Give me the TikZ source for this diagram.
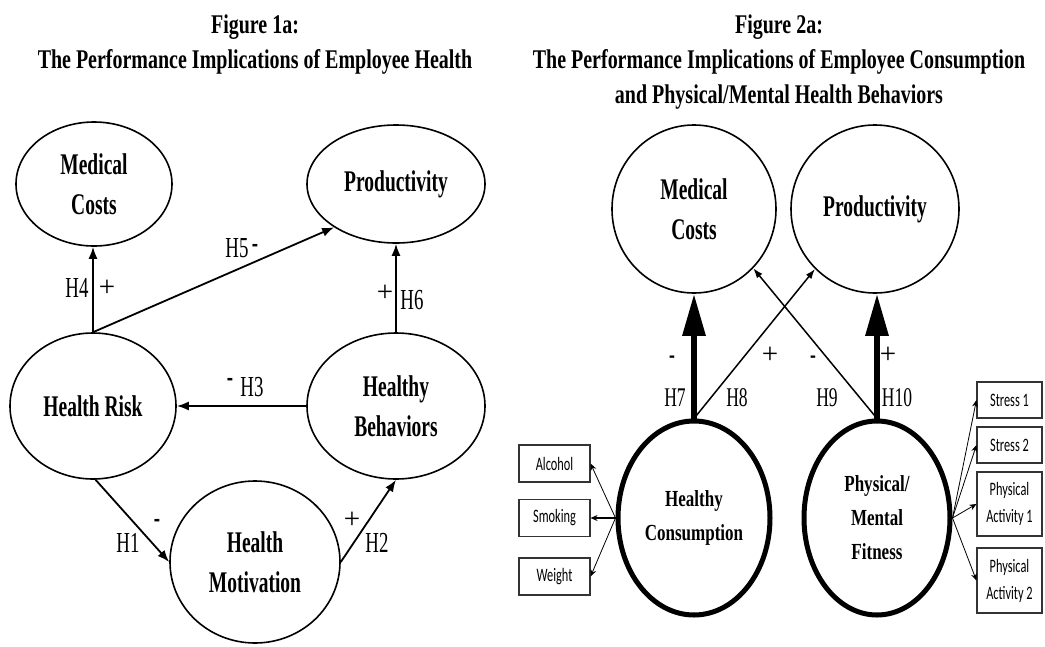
\documentclass[tikz,border=0pt]{standalone}
\usepackage{fontspec}
\setmainfont[FakeStretch=0.65]{Liberation Serif}
\newfontfamily\widef[FakeStretch=0.74]{Liberation Serif}
\newfontfamily\plainf{Liberation Serif}
\newfontfamily\carl[FakeStretch=0.65]{Carlito}
\usetikzlibrary{shapes.geometric,arrows.meta}
\begin{document}
\begin{tikzpicture}[x=1pt,y=-1pt,
  lat/.style={ellipse, draw, line width=1.6pt, inner sep=0pt, align=center, font=\bfseries\fontsize{30}{40}\selectfont},
  hcirc/.style={ellipse, draw, line width=5pt, inner sep=0pt, align=center, font=\widef\bfseries\fontsize{23}{34}\selectfont},
  ttl/.style={anchor=north, align=center, inner sep=0pt, font=\widef\bfseries\fontsize{27}{35}\selectfont},
  lbl/.style={inner sep=0pt, font=\fontsize{29}{29}\selectfont},
  rlbl/.style={inner sep=0pt, font=\fontsize{27}{27}\selectfont},
  plus/.style={inner sep=0pt, font=\plainf\fontsize{29}{29}\selectfont},
  obs/.style={draw=black!80, line width=1.1pt, inner sep=0pt, align=center, font=\carl\fontsize{19}{27}\selectfont},
  arr/.style={-{Latex[length=12pt,width=9pt]}, line width=1.8pt},
  bigarr/.style={-{Triangle[length=42pt,width=22pt]}, line width=6pt},
  tarr/.style={-{Latex[length=10pt,width=7pt]}, line width=1.5pt},
  oarr/.style={-{Stealth[length=7pt,width=6pt]}, line width=0.8pt}
]
\useasboundingbox (0,0) rectangle (1045,646);
% titles
\node[ttl] (t1) at (255,15) {Figure 1a:\\The Performance Implications of Employee Health};
\node[ttl] (t2) at (779,15) {Figure 2a:\\The Performance Implications of Employee Consumption\\and Physical/Mental Health Behaviors};
% left figure
\node[lat, minimum width=156pt, minimum height=124pt] (mc) at (94,184) {Medical\\Costs};
\node[lat, minimum width=178pt, minimum height=118pt] (pr) at (396,184) {Productivity};
\node[lat, minimum width=166pt, minimum height=146pt] (hr) at (93,406) {Health Risk};
\node[lat, minimum width=178pt, minimum height=146pt] (hb) at (396,406) {Healthy\\Behaviors};
\node[lat, minimum width=170pt, minimum height=162pt] (hm) at (255,562) {Health\\Motivation};
\draw[arr] (hr.north) -- (hr.north |- mc.south);
\draw[arr] (hr.north) -- (pr.215);
\draw[arr] (hb.north) -- (pr.south);
\draw[arr] (hb.west) -- (hr.east);
\draw[arr] (hr.-88) -- (hm.west);
\draw[arr] (hm.east) -- (hb.south);
\node[lbl] (h4) at (77,288) {H4};
\node[plus] (p4) at (107,288) {+};
\node[lbl] (h5) at (237,248) {H5};
\node[lbl] (m5) at (255,248) {\bfseries -};
\node[plus] (p6) at (385,293) {+};
\node[lbl] (h6) at (412,300) {H6};
\node[lbl] (m3) at (230,382) {\bfseries -};
\node[lbl] (h3) at (252,387) {H3};
\node[lbl] (h1) at (128,543) {H1};
\node[lbl] (m1) at (157,523) {\bfseries -};
\node[plus] (p2) at (352,520) {+};
\node[lbl] (h2) at (377,543) {H2};
% right figure
\node[lat, minimum width=164pt, minimum height=168pt] (rmc) at (694,209) {Medical\\Costs};
\node[lat, minimum width=168pt, minimum height=168pt] (rpr) at (875,209) {Productivity};
\node[hcirc, minimum width=152pt, minimum height=194pt] (hc) at (694,518) {Healthy\\Consumption};
\node[hcirc, minimum width=146pt, minimum height=194pt] (pf) at (877,518) {Physical/\\Mental\\Fitness};
\draw[bigarr] (hc.north) -- (rmc.south);
\draw[bigarr] (pf.north) -- (pf.north |- rpr.south);
\draw[tarr] (hc.north) -- (rpr.225);
\draw[tarr] (pf.north) -- (rmc.-45);
\node[rlbl] (m7) at (672,360) {\bfseries -};
\node[rlbl] (h7) at (675,398) {H7};
\node[plus] (p8) at (770,355) {+};
\node[rlbl] (h8) at (737,398) {H8};
\node[rlbl] (m9) at (813,360) {\bfseries -};
\node[rlbl] (h9) at (827,398) {H9};
\node[plus] (p10) at (888,355) {+};
\node[rlbl] (h10) at (897,398) {H10};
% indicator boxes
\node[obs, minimum width=71pt, minimum height=37pt] (alc) at (554.5,463.5) {Alcohol};
\node[obs, minimum width=71pt, minimum height=37pt] (smk) at (554.5,518) {Smoking};
\node[obs, minimum width=71pt, minimum height=37pt] (wgt) at (554.5,576.5) {Weight};
\node[obs, minimum width=65pt, minimum height=36pt] (s1) at (1009.5,400) {Stress 1};
\node[obs, minimum width=65pt, minimum height=36pt] (s2) at (1009.5,445) {Stress 2};
\node[obs, minimum width=65pt, minimum height=64pt] (pa1) at (1009.5,504) {Physical\\Activity 1};
\node[obs, minimum width=65pt, minimum height=65pt] (pa2) at (1009.5,580.5) {Physical\\Activity 2};
\draw[oarr] (hc.west) -- (alc.east);
\draw[oarr, line width=1.6pt] (hc.west) -- (smk.east);
\draw[oarr] (hc.west) -- (wgt.east);
\draw[oarr] (pf.east) -- (s1.west);
\draw[oarr] (pf.east) -- (s2.west);
\draw[oarr] (pf.east) -- (pa1.west);
\draw[oarr] (pf.east) -- (pa2.west);
\end{tikzpicture}
\end{document}
